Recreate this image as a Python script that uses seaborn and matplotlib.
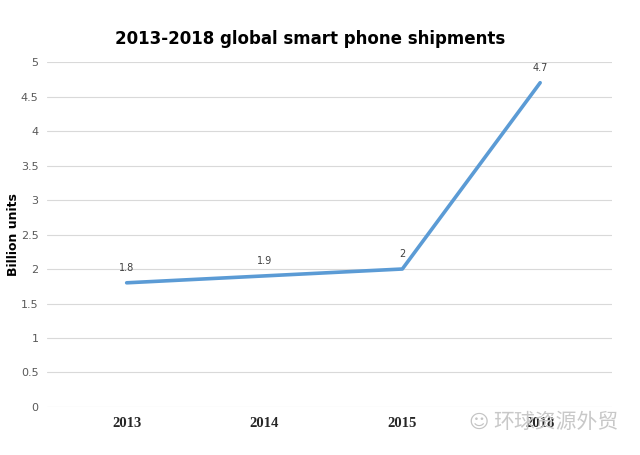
import matplotlib
matplotlib.use("Agg")
import matplotlib.pyplot as plt
import seaborn as sns
import pandas as pd

years = ["2013", "2014", "2015", "2018"]
shipments = [1.8, 1.9, 2.0, 4.7]
value_labels = ["1.8", "1.9", "2", "4.7"]
yticks = [0, 0.5, 1, 1.5, 2, 2.5, 3, 3.5, 4, 4.5, 5]
ytick_labels = ["0", "0.5", "1", "1.5", "2", "2.5", "3", "3.5", "4", "4.5", "5"]

df = pd.DataFrame({"year": years, "shipments": shipments})

sns.set_theme(style="white")
plt.rcParams['font.family'] = ['DejaVu Sans', 'Noto Sans CJK SC']

fig = plt.figure(figsize=(6.4, 4.55), dpi=100)
ax = fig.add_axes([0.073, 0.1055, 0.883, 0.7582])
sns.lineplot(data=df, x="year", y="shipments", ax=ax, color="#5B9BD5",
             linewidth=2.6, sort=False)

ax.set_xlim(-0.58, 3.52)
ax.set_ylim(0, 5)
ax.set_yticks(yticks)
ax.set_yticklabels(ytick_labels, fontsize=8, color="#595959")
ax.yaxis.grid(True, color="#D9D9D9", linewidth=0.8)
ax.set_axisbelow(True)
ax.tick_params(axis="y", length=0, pad=6)
ax.tick_params(axis="x", length=0, pad=7)
for lbl in ax.get_xticklabels():
    lbl.set_fontfamily("Liberation Serif")
    lbl.set_fontweight("bold")
    lbl.set_fontsize(10.5)
    lbl.set_color("#262626")
for s in ax.spines.values():
    s.set_visible(False)
ax.set_xlabel("")
ax.set_ylabel("Billion units", fontsize=9, fontweight="bold", color="black")
ax.yaxis.set_label_coords(-0.047, 0.5)

for i, (v, t) in enumerate(zip(shipments, value_labels)):
    ax.annotate(t, (i, v), xytext=(0, 7), textcoords="offset points",
                ha="center", va="bottom", fontsize=7, color="#404040")

fig.text(0.484, 0.915, "2013-2018 global smart phone shipments", ha="center",
         va="center", fontsize=12, fontweight="bold", color="black")

fig.text(0.748, 0.072, "\u263a", fontsize=14, color="#C4C4C4", ha="center", va="center")
fig.text(0.869, 0.072, "环球资源外贸", fontsize=15, color="#C8C8C8",
         ha="center", va="center", family=["Noto Sans CJK SC", "DejaVu Sans"])

fig.savefig("out.png", dpi=100, facecolor="white")
